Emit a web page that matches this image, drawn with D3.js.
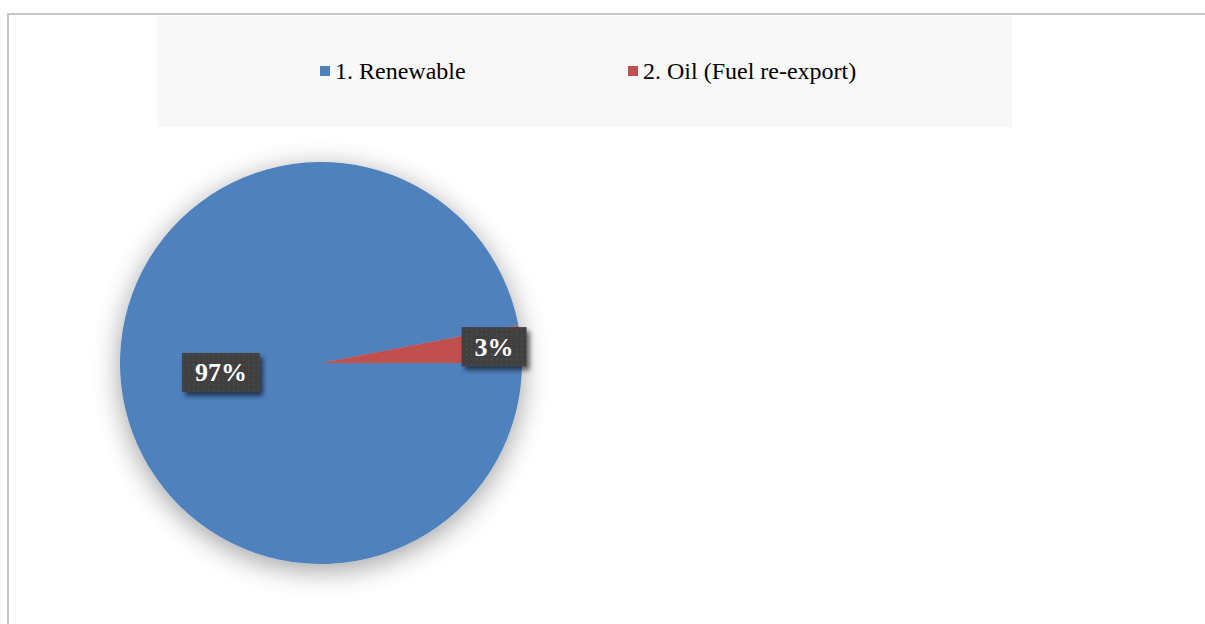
<!DOCTYPE html>
<html>
<head>
<meta charset="utf-8">
<script src="https://cdn.jsdelivr.net/npm/d3@7"></script>
<style>
  html, body { margin: 0; padding: 0; background: #fff; }
  svg { display: block; }
</style>
</head>
<body>
<svg width="1205" height="624"></svg>
<script>
var categories = ["1. Renewable", "2. Oil (Fuel re-export)"];
var values = [97, 3];
var colors = ["#4f81bd", "#c0504d"];

var svg = d3.select("svg"),
	width = +svg.attr("width"),
	height = +svg.attr("height");

var defs = svg.append("defs");

// soft shadow round the pie
var pieShadow = defs.append("filter").attr("id", "pieShadow")
	.attr("x", "-30%").attr("y", "-30%").attr("width", "160%").attr("height", "160%");
pieShadow.append("feGaussianBlur").attr("in", "SourceAlpha").attr("stdDeviation", 14).attr("result", "b");
pieShadow.append("feOffset").attr("in", "b").attr("dy", 6).attr("result", "o");
pieShadow.append("feComponentTransfer").attr("in", "o").attr("result", "s")
	.append("feFuncA").attr("type", "linear").attr("slope", 0.38);
var m1 = pieShadow.append("feMerge");
m1.append("feMergeNode").attr("in", "s");
m1.append("feMergeNode").attr("in", "SourceGraphic");

// shadow for the label boxes
var boxShadow = defs.append("filter").attr("id", "boxShadow")
	.attr("x", "-30%").attr("y", "-40%").attr("width", "160%").attr("height", "180%");
boxShadow.append("feGaussianBlur").attr("in", "SourceAlpha").attr("stdDeviation", 2.5).attr("result", "b");
boxShadow.append("feOffset").attr("in", "b").attr("dx", 3).attr("dy", 4).attr("result", "o");
boxShadow.append("feComponentTransfer").attr("in", "o").attr("result", "s")
	.append("feFuncA").attr("type", "linear").attr("slope", 0.6);
var m2 = boxShadow.append("feMerge");
m2.append("feMergeNode").attr("in", "s");
m2.append("feMergeNode").attr("in", "SourceGraphic");

// dotted dark fill of the labels
var pat = defs.append("pattern").attr("id", "dots")
	.attr("width", 5).attr("height", 5).attr("patternUnits", "userSpaceOnUse");
pat.append("rect").attr("width", 5).attr("height", 5).attr("fill", "#404040");
pat.append("rect").attr("x", 2).attr("y", 2).attr("width", 1.2).attr("height", 1.2).attr("fill", "#575757");

// chart border
svg.append("rect")
	.attr("x", 8).attr("y", 14)
	.attr("width", width + 20).attr("height", height + 20)
	.attr("fill", "#fff")
	.attr("stroke", "#c8c8c8").attr("stroke-width", 2);

// legend
var legend = svg.append("g");
legend.append("rect")
	.attr("x", 157).attr("y", 16).attr("width", 855).attr("height", 111)
	.attr("fill", "#f8f8f8");

var legendX = d3.scalePoint().domain(categories).range([320, 628]);

var item = legend.selectAll(".item")
	.data(categories)
	.enter().append("g")
	.attr("class", "item")
	.attr("transform", function(d) { return "translate(" + legendX(d) + ",66)"; });

item.append("rect")
	.attr("width", 10).attr("height", 10)
	.attr("fill", function(d, i) { return colors[i]; });

item.append("text")
	.attr("x", 15).attr("y", 13)
	.style("font-family", "'Liberation Serif', 'Times New Roman', serif")
	.style("font-size", "24px")
	.style("fill", "#000")
	.text(function(d) { return d; });

// pie
var cx = 321, cy = 363, r = 201;

var pie = d3.pie()
	.sort(null)
	.startAngle(Math.PI / 2)
	.endAngle(Math.PI / 2 + 2 * Math.PI)
	.value(function(d) { return d; });

var arcs = pie(values);

var arc = d3.arc().innerRadius(0).outerRadius(r);

var g = svg.append("g")
	.attr("transform", "translate(" + cx + "," + cy + ")");

g.append("g")
	.attr("filter", "url(#pieShadow)")
	.selectAll("path")
	.data(arcs)
	.enter().append("path")
	.attr("d", arc)
	.attr("fill", function(d, i) { return colors[i]; });

// data labels
var labelRadius = [0.5 * r, 0.865 * r];
var total = d3.sum(values);

var lab = g.selectAll(".lab")
	.data(arcs)
	.enter().append("g")
	.attr("class", "lab")
	.attr("transform", function(d, i) {
		var c = d3.arc().innerRadius(labelRadius[i]).outerRadius(labelRadius[i]).centroid(d);
		return "translate(" + c[0] + "," + c[1] + ")";
	});

lab.each(function(d) {
	var sel = d3.select(this);
	var txt = Math.round(d.value / total * 100) + "%";
	var box = sel.append("rect")
		.attr("y", -19.5)
		.attr("height", 39)
		.attr("fill", "url(#dots)")
		.attr("filter", "url(#boxShadow)");
	var t = sel.append("text")
		.attr("text-anchor", "middle")
		.attr("y", 9)
		.style("font-family", "'Liberation Serif', 'Times New Roman', serif")
		.style("font-weight", "bold")
		.style("font-size", "26px")
		.style("fill", "#fff")
		.text(txt);
	var w = t.node().getComputedTextLength() + 26;
	box.attr("x", -w / 2).attr("width", w);
});
</script>
</body>
</html>
